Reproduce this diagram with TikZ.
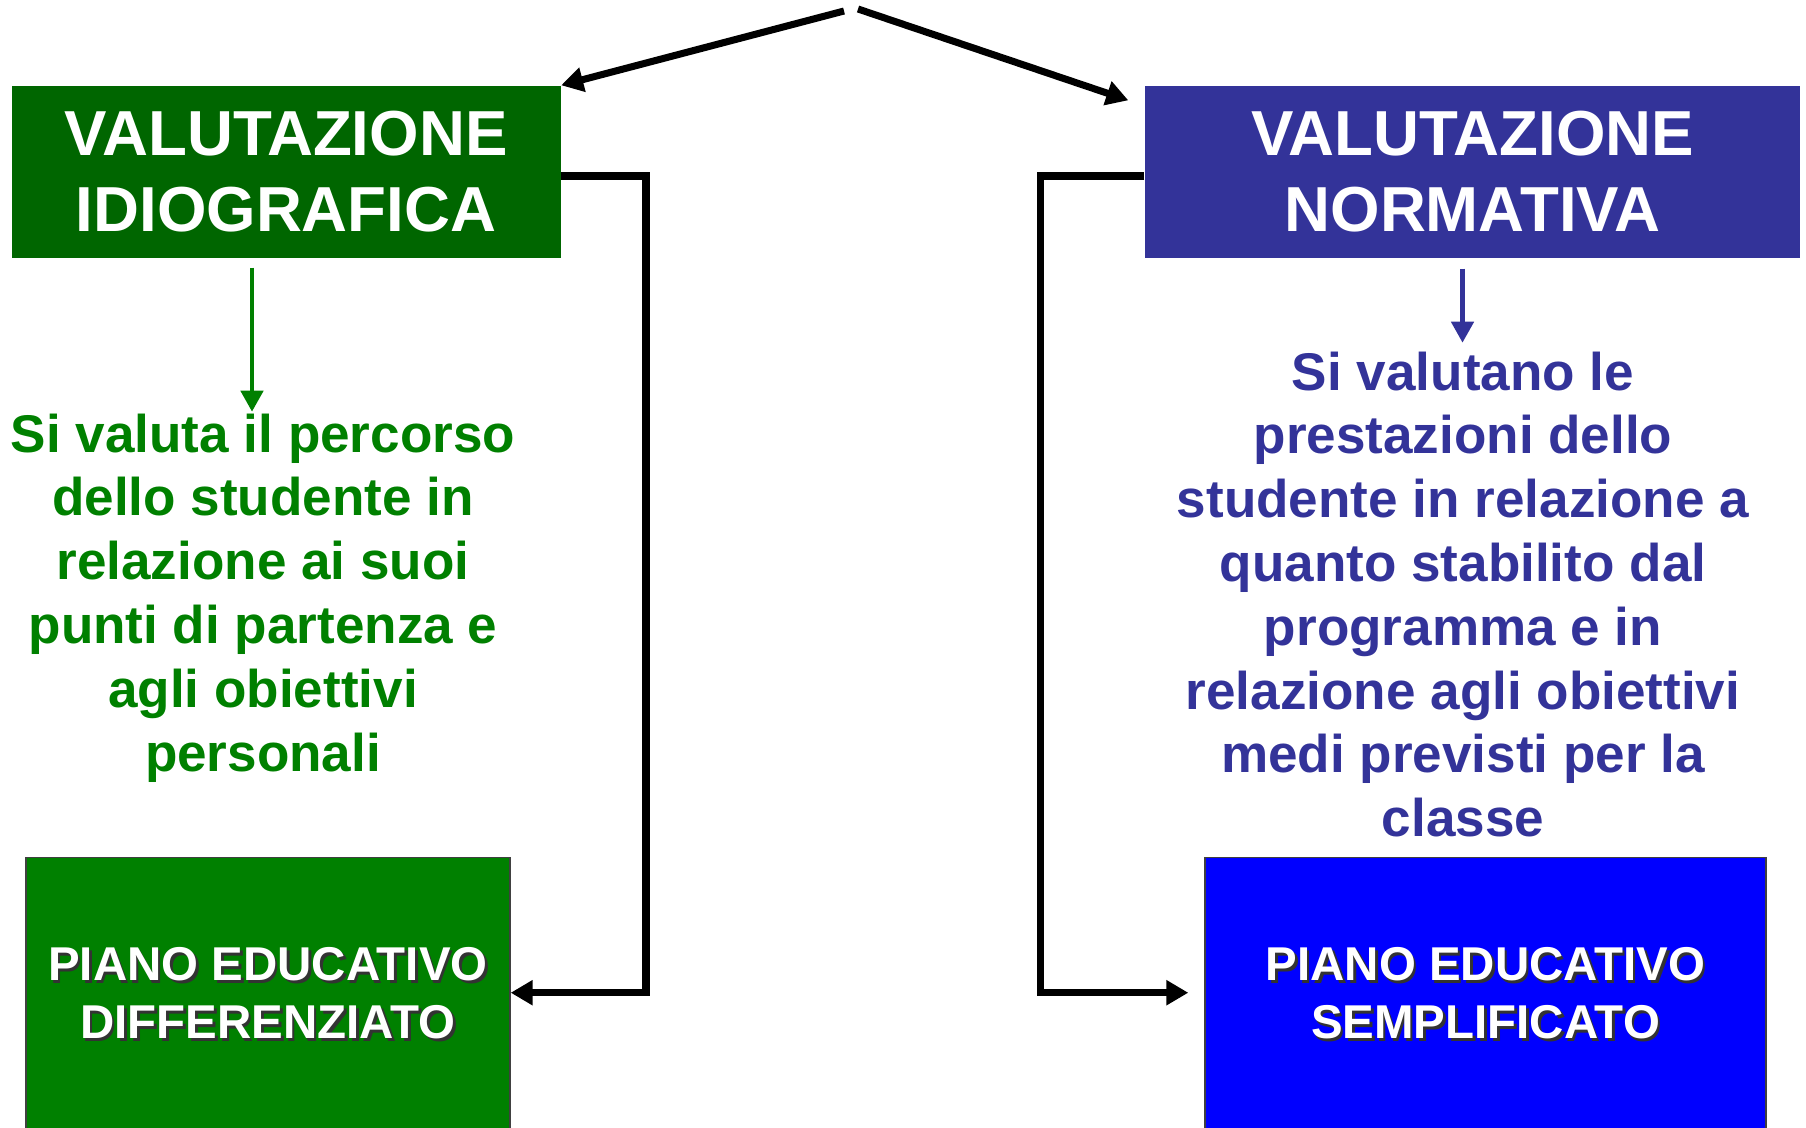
\documentclass[tikz,border=0pt]{standalone}
\usepackage{fontspec}
\setmainfont{Liberation Sans}
\usetikzlibrary{arrows.meta}

\definecolor{idiogreen}{HTML}{006600}
\definecolor{textgreen}{HTML}{008000}
\definecolor{normblue}{HTML}{333399}
\definecolor{pureblue}{HTML}{0000FF}

\newcommand{\shadowed}[1]{\rlap{\kern0.7pt\raisebox{-0.7pt}{\color{black!80}#1}}#1}

\begin{document}
\begin{tikzpicture}
    [x=0.1mm, y=-0.1mm,
     valbox/.style={inner sep=0pt, minimum height=17.2mm, text=white, align=center,
       font=\bfseries\fontsize{18.1pt}{21.6pt}\selectfont},
     pianobox/.style={draw=black!75, inner sep=0pt, minimum height=27.4mm, anchor=north,
       text=white, align=center, font=\bfseries\fontsize{13.5pt}{16.5pt}\selectfont},
     bodytext/.style={inner sep=0pt, align=center, anchor=north,
       font=\bfseries\fontsize{15.1pt}{18.15pt}\selectfont},
     bendarrow/.style={-{Triangle[length=2.2mm, width=2.4mm]}, line width=2pt},
     downarrow/.style={-{Triangle[length=2.1mm, width=2.2mm]}, line width=1.3pt}]
  \useasboundingbox (0,0) rectangle (1806,1127);
  \node[valbox, fill=idiogreen, minimum width=54.9mm] (idio) at (286,172) {VALUTAZIONE\\IDIOGRAFICA};
  \node[valbox, fill=normblue, minimum width=65.5mm] (norm) at (1472.5,172) {VALUTAZIONE\\NORMATIVA};
  \node[bodytext, text=textgreen] (idiotxt) at (263,413) {Si valuta il percorso\\dello studente in\\relazione ai suoi\\punti di partenza e\\agli obiettivi\\personali};
  \node[bodytext, text=normblue] (normtxt) at (1463,351) {Si valutano le\\prestazioni dello\\studente in relazione a\\quanto stabilito dal\\programma e in\\relazione agli obiettivi\\medi previsti per la\\classe};
  \node[pianobox, fill=textgreen, minimum width=48.4mm] (ped) at (268,857) {\shadowed{PIANO EDUCATIVO}\\\shadowed{DIFFERENZIATO}};
  \node[pianobox, fill=pureblue, minimum width=56.1mm] (pes) at (1485.5,857) {\shadowed{PIANO EDUCATIVO}\\\shadowed{SEMPLIFICATO}};
  \coordinate (apexL) at (844,11);
  \coordinate (apexR) at (858,9);
  \coordinate (bendL) at (646,0);
  \coordinate (bendR) at (1040,0);
  \coordinate (pedin) at ([yshift=0.2mm]ped.east);
  \coordinate (pesin) at ([shift={(-16,-2)}]pes.west);
  \draw[bendarrow] (apexL) -- (idio.north east);
  \draw[bendarrow] (apexR) -- ([shift={(-16,15)}]norm.north west);
  \draw[bendarrow] ([yshift=-0.4mm]idio.east) -| (bendL |- pedin) -- (pedin);
  \draw[bendarrow] ([yshift=-0.4mm]norm.west) -| (bendR |- pesin) -- (pesin);
  \draw[downarrow, textgreen] ([shift={(-34,9)}]idio.south) -- ++(0,144);
  \draw[downarrow, normblue] ([shift={(-10,10)}]norm.south) -- ++(0,74);
\end{tikzpicture}
\end{document}
